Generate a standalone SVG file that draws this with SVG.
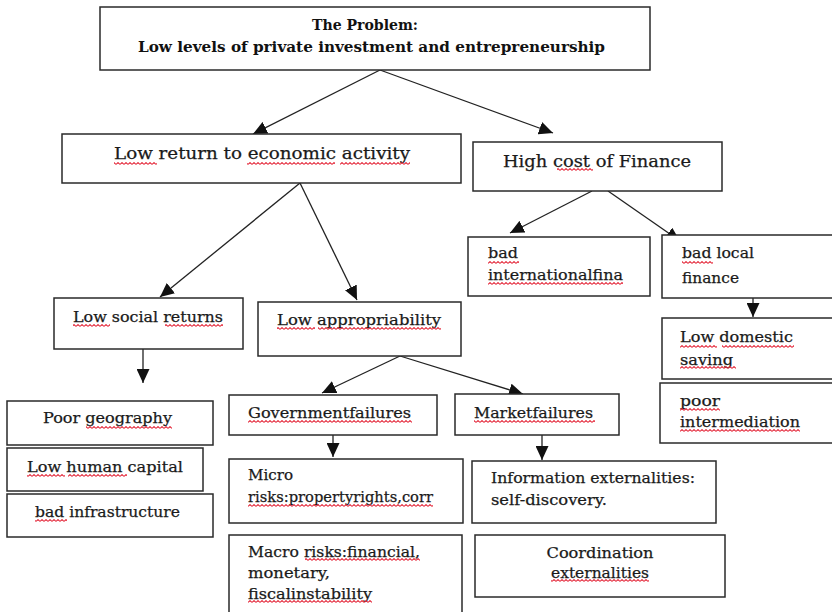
<svg xmlns="http://www.w3.org/2000/svg" width="832" height="612" viewBox="0 0 832 612">
<style>
.box{fill:#fff;stroke:#2a2a2a;stroke-width:1.5}
.t{font-family:"DejaVu Serif","Liberation Serif",serif;font-size:15px;fill:#1a1a1a;stroke:#1a1a1a;stroke-width:0.25}
.tl{font-family:"DejaVu Serif","Liberation Serif",serif;font-size:16.5px;fill:#1a1a1a;stroke:#1a1a1a;stroke-width:0.25}
.tb{font-family:"DejaVu Serif","Liberation Serif",serif;font-size:14px;font-weight:bold;fill:#111}
.c{fill:none;stroke:#222;stroke-width:1.3}
.sq{fill:url(#wave)}
</style>
<defs>
<marker id="ah" markerUnits="userSpaceOnUse" markerWidth="15" markerHeight="13" refX="14" refY="6.5" orient="auto">
<path d="M0,0 L14,6.5 L0,13 z" fill="#111"/>
</marker>
<pattern id="wave" width="4" height="3" patternUnits="userSpaceOnUse">
<path d="M0 2.4 L2 0.6 L4 2.4" fill="none" stroke="#e4283a" stroke-width="1.1"/>
</pattern>
</defs>
<rect width="832" height="612" fill="#fff"/>

<g id="connectors">
<line class="c" x1="380" y1="70" x2="253" y2="134" marker-end="url(#ah)"/>
<line class="c" x1="380" y1="70" x2="553" y2="133" marker-end="url(#ah)"/>
<line class="c" x1="300" y1="183" x2="160" y2="297" marker-end="url(#ah)"/>
<line class="c" x1="300" y1="183" x2="357" y2="300" marker-end="url(#ah)"/>
<line class="c" x1="592" y1="191" x2="510" y2="233" marker-end="url(#ah)"/>
<line class="c" x1="608" y1="191" x2="680" y2="241" marker-end="url(#ah)"/>
<line class="c" x1="753" y1="288" x2="753" y2="317" marker-end="url(#ah)"/>
<line class="c" x1="143" y1="347" x2="143" y2="383" marker-end="url(#ah)"/>
<line class="c" x1="400" y1="356" x2="322" y2="393" marker-end="url(#ah)"/>
<line class="c" x1="400" y1="356" x2="523" y2="394" marker-end="url(#ah)"/>
<line class="c" x1="333" y1="435" x2="333" y2="457" marker-end="url(#ah)"/>
<line class="c" x1="542" y1="435" x2="542" y2="460" marker-end="url(#ah)"/>
</g>

<g id="problem">
<rect class="box" x="100" y="7" width="550" height="63"/>
<text class="tb" x="365" y="30" text-anchor="middle" textLength="106" lengthAdjust="spacingAndGlyphs">The Problem:</text>
<text class="tb" x="371.5" y="52" text-anchor="middle" textLength="467" lengthAdjust="spacingAndGlyphs">Low levels of private investment and entrepreneurship</text>
</g>

<g id="low-return">
<rect class="box" x="62" y="134" width="399" height="49"/>
<text class="tl" x="114" y="159" textLength="296" lengthAdjust="spacingAndGlyphs">Low return to economic activity</text>
<rect class="sq" x="114" y="162" width="43" height="3"/>
<rect class="sq" x="247" y="162" width="88" height="3"/>
<rect class="sq" x="340" y="162" width="70" height="3"/>
</g>

<g id="high-cost">
<rect class="box" x="473" y="142" width="249" height="49"/>
<text class="tl" x="503" y="167" textLength="188" lengthAdjust="spacingAndGlyphs">High cost of Finance</text>
<rect class="sq" x="557" y="168" width="36" height="3"/>
</g>

<g id="bad-international">
<rect class="box" x="468" y="237" width="182" height="59"/>
<text class="t" x="488" y="258" textLength="30" lengthAdjust="spacingAndGlyphs">bad</text>
<text class="t" x="488" y="280" textLength="135" lengthAdjust="spacingAndGlyphs">internationalfina</text>
<rect class="sq" x="488" y="261" width="31" height="3"/>
<rect class="sq" x="488" y="282" width="135" height="3"/>
</g>

<g id="bad-local">
<rect class="box" x="662" y="235" width="180" height="63"/>
<text class="t" x="682" y="258" textLength="72" lengthAdjust="spacingAndGlyphs">bad local</text>
<text class="t" x="682" y="283" textLength="57" lengthAdjust="spacingAndGlyphs">finance</text>
<rect class="sq" x="682" y="261" width="31" height="3"/>
</g>

<g id="low-social">
<rect class="box" x="54" y="298" width="189" height="51"/>
<text class="t" x="73" y="322" textLength="150" lengthAdjust="spacingAndGlyphs">Low social returns</text>
<rect class="sq" x="73" y="324" width="37" height="3"/>
<rect class="sq" x="165" y="324" width="58" height="3"/>
</g>

<g id="low-appropriability">
<rect class="box" x="258" y="302" width="203" height="54"/>
<text class="t" x="277" y="325" textLength="164" lengthAdjust="spacingAndGlyphs">Low appropriability</text>
<rect class="sq" x="277" y="327" width="38" height="3"/>
<rect class="sq" x="318" y="327" width="123" height="3"/>
</g>

<g id="low-domestic-saving">
<rect class="box" x="662" y="318" width="180" height="61"/>
<text class="t" x="680" y="342" textLength="113" lengthAdjust="spacingAndGlyphs">Low domestic</text>
<text class="t" x="680" y="365" textLength="53" lengthAdjust="spacingAndGlyphs">saving</text>
<rect class="sq" x="680" y="345" width="37" height="3"/>
<rect class="sq" x="722" y="345" width="72" height="3"/>
<rect class="sq" x="680" y="366" width="56" height="3"/>
</g>

<g id="poor-intermediation">
<rect class="box" x="660" y="383" width="182" height="60"/>
<text class="t" x="680" y="406" textLength="40" lengthAdjust="spacingAndGlyphs">poor</text>
<text class="t" x="680" y="427" textLength="120" lengthAdjust="spacingAndGlyphs">intermediation</text>
<rect class="sq" x="680" y="408" width="40" height="3"/>
<rect class="sq" x="680" y="429" width="120" height="3"/>
</g>

<g id="poor-geography">
<rect class="box" x="7" y="401" width="206" height="44"/>
<text class="t" x="43" y="423" textLength="129" lengthAdjust="spacingAndGlyphs">Poor geography</text>
<rect class="sq" x="86" y="426" width="86" height="3"/>
</g>

<g id="low-human-capital">
<rect class="box" x="7" y="448" width="196" height="43"/>
<text class="t" x="27" y="472" textLength="156" lengthAdjust="spacingAndGlyphs">Low human capital</text>
<rect class="sq" x="27" y="474" width="38" height="3"/>
<rect class="sq" x="68" y="474" width="59" height="3"/>
</g>

<g id="bad-infrastructure">
<rect class="box" x="7" y="494" width="206" height="43"/>
<text class="t" x="35" y="517" textLength="145" lengthAdjust="spacingAndGlyphs">bad infrastructure</text>
<rect class="sq" x="35" y="519" width="32" height="3"/>
</g>

<g id="government-failures">
<rect class="box" x="229" y="395" width="208" height="40"/>
<text class="t" x="248" y="418" textLength="163" lengthAdjust="spacingAndGlyphs">Governmentfailures</text>
<rect class="sq" x="248" y="420" width="164" height="3"/>
</g>

<g id="market-failures">
<rect class="box" x="455" y="394" width="164" height="41"/>
<text class="t" x="474" y="418" textLength="119" lengthAdjust="spacingAndGlyphs">Marketfailures</text>
<rect class="sq" x="474" y="420" width="121" height="3"/>
</g>

<g id="micro-risks">
<rect class="box" x="229" y="459" width="234" height="64"/>
<text class="t" x="248" y="480" textLength="45" lengthAdjust="spacingAndGlyphs">Micro</text>
<text class="t" x="248" y="502" textLength="185" lengthAdjust="spacingAndGlyphs">risks:propertyrights,corr</text>
<rect class="sq" x="248" y="504" width="185" height="3"/>
</g>

<g id="macro-risks">
<rect class="box" x="229" y="535" width="233" height="90"/>
<text class="t" x="248" y="557" textLength="172" lengthAdjust="spacingAndGlyphs">Macro risks:financial,</text>
<text class="t" x="248" y="578" textLength="82" lengthAdjust="spacingAndGlyphs">monetary,</text>
<text class="t" x="248" y="599" textLength="124" lengthAdjust="spacingAndGlyphs">fiscalinstability</text>
<rect class="sq" x="305" y="558" width="115" height="3"/>
<rect class="sq" x="248" y="600" width="124" height="3"/>
</g>

<g id="information-externalities">
<rect class="box" x="472" y="461" width="244" height="62"/>
<text class="t" x="491" y="483" textLength="204" lengthAdjust="spacingAndGlyphs">Information externalities:</text>
<text class="t" x="491" y="505" textLength="116" lengthAdjust="spacingAndGlyphs">self-discovery.</text>
</g>

<g id="coordination-externalities">
<rect class="box" x="475" y="535" width="250" height="62"/>
<text class="t" x="600" y="558" text-anchor="middle" textLength="107" lengthAdjust="spacingAndGlyphs">Coordination</text>
<text class="t" x="600" y="578" text-anchor="middle" textLength="98" lengthAdjust="spacingAndGlyphs">externalities</text>
<rect class="sq" x="551" y="579" width="98" height="3"/>
</g>
</svg>
